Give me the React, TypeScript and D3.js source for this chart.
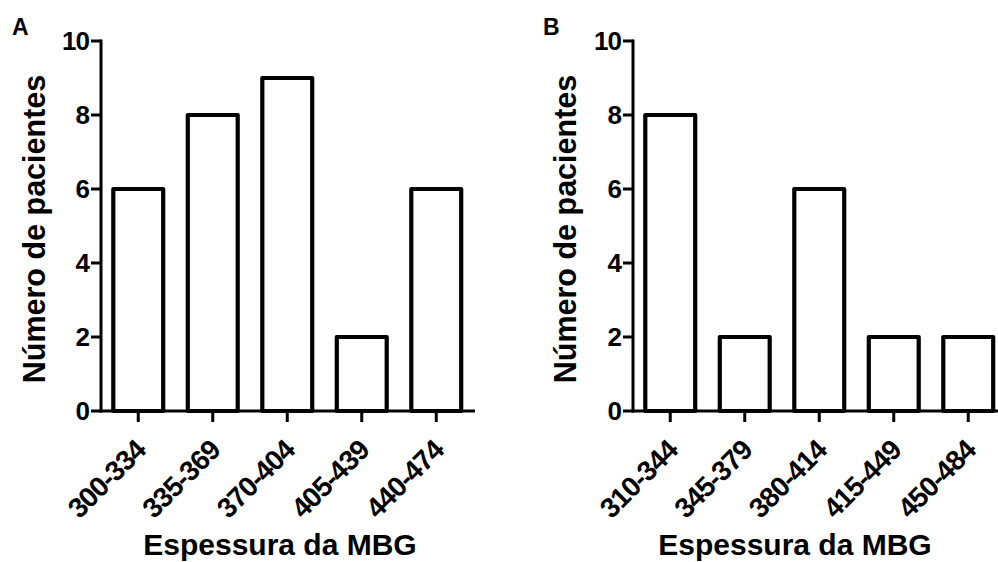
import React from "react";
import * as d3 from "d3";

const categoriesA = ["300-334", "335-369", "370-404", "405-439", "440-474"];
const valuesA = [6, 8, 9, 2, 6];
const categoriesB = ["310-344", "345-379", "380-414", "415-449", "450-484"];
const valuesB = [8, 2, 6, 2, 2];
const yTicks = [0, 2, 4, 6, 8, 10];
const panelLabels = ["A", "B"];
const yTitle = "Número de pacientes";
const xTitle = "Espessura da MBG";

const FONT = "'Liberation Sans', Arial, sans-serif";

type PanelProps = {
  label: string;
  cats: string[];
  vals: number[];
  x0: number;
  xEnd: number;
  axisEnd: number;
  titleX: number;
  labelX: number;
  yTitleX: number;
};

function Panel({ label, cats, vals, x0, xEnd, axisEnd, titleX, labelX, yTitleX }: PanelProps) {
  const y = d3.scaleLinear().domain([0, 10]).range([411, 41]);
  const x = d3.scaleBand<string>().domain(cats).range([x0, xEnd]).paddingInner(0.33).paddingOuter(0.165);
  const xc = d3.scaleBand<string>().domain(cats).range([x0, xEnd]);
  const bw = x.bandwidth();
  return (
    <g>
      <text x={labelX} y={35} fontFamily={FONT} fontWeight="bold" fontSize={23} fill="#000">
        {label}
      </text>
      {cats.map((c, i) => (
        <rect
          key={c}
          x={x(c)!}
          y={y(vals[i])}
          width={bw}
          height={y(0) - y(vals[i])}
          fill="#fff"
          stroke="#000"
          strokeWidth={4.2}
          strokeLinejoin="round"
        />
      ))}
      <line x1={x0} x2={x0} y1={y(10) - 1.5} y2={y(0) + 1.5} stroke="#000" strokeWidth={3} />
      {yTicks.map((t) => (
        <g key={t}>
          <line x1={x0 - 10} x2={x0} y1={y(t)} y2={y(t)} stroke="#000" strokeWidth={3} />
          <text
            x={x0 - 12}
            y={y(t)}
            dy="0.36em"
            textAnchor="end"
            fontFamily={FONT}
            fontWeight="bold"
            fontSize={26}
            letterSpacing={-1}
            fill="#000"
          >
            {t}
          </text>
        </g>
      ))}
      <line x1={x0 - 1.5} x2={axisEnd} y1={y(0)} y2={y(0)} stroke="#000" strokeWidth={3} />
      {cats.map((c) => {
        const cx = xc(c)! + xc.bandwidth() / 2;
        return (
          <g key={c}>
            <line x1={cx} x2={cx} y1={y(0)} y2={y(0) + 11} stroke="#000" strokeWidth={3} />
            <text
              transform={`translate(${cx + 9},${y(0) + 41}) rotate(-45)`}
              textAnchor="end"
              fontFamily={FONT}
              fontWeight="bold"
              fontSize={28}
              letterSpacing={-1}
              fill="#000"
            >
              {c}
            </text>
          </g>
        );
      })}
      <text
        x={titleX}
        y={555}
        textAnchor="middle"
        fontFamily={FONT}
        fontWeight="bold"
        fontSize={30}
        fill="#000"
      >
        {xTitle}
      </text>
      <text
        transform={`translate(${yTitleX},229) rotate(-90)`}
        textAnchor="middle"
        fontFamily={FONT}
        fontWeight="bold"
        fontSize={30.5}
        fill="#000"
      >
        {yTitle}
      </text>
    </g>
  );
}

export default function App() {
  return (
    <svg
      width={998}
      height={562}
      style={{ position: "absolute", left: 0, top: 0, background: "#fff" }}
    >
      <rect width={998} height={562} fill="#fff" />
      <Panel
        label={panelLabels[0]}
        cats={categoriesA}
        vals={valuesA}
        x0={101}
        xEnd={473.5}
        axisEnd={475}
        titleX={280}
        labelX={12}
        yTitleX={45}
      />
      <Panel
        label={panelLabels[1]}
        cats={categoriesB}
        vals={valuesB}
        x0={633}
        xEnd={1005.5}
        axisEnd={1005}
        titleX={795}
        labelX={543}
        yTitleX={576}
      />
    </svg>
  );
}
